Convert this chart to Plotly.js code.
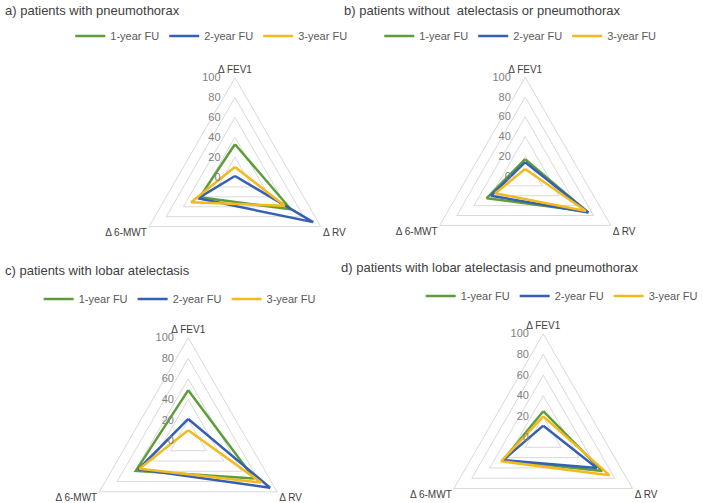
<!DOCTYPE html>
<html>
<head>
<meta charset="utf-8">
<script src="https://cdn.plot.ly/plotly-3.0.1.min.js"></script>
<style>
html,body{margin:0;padding:0;overflow:hidden;background:#fff;}
#chart{width:703px;height:560px;}
</style>
</head>
<body>
<div id="chart"></div>
<script>
// ---- data ----
const categories = ["Δ FEV1", "Δ RV", "Δ 6-MWT"];
const seriesNames = ["1-year FU", "2-year FU", "3-year FU"];
const radialTicks = [0, 20, 40, 60, 80, 100];

const a_1yr = [33, 65, 41];
const a_2yr = [1, 91, 43];
const a_3yr = [10, 58, 51];

const b_1yr = [17, 72, 45];
const b_2yr = [14, 74, 40];
const b_3yr = [7, 71, 35];

const c_1yr = [49, 74, 59];
const c_2yr = [21, 92, 56];
const c_3yr = [10, 82, 55];

const d_1yr = [25, 66, 45];
const d_2yr = [11, 60, 45];
const d_3yr = [20, 74, 47];

const panelTitles = [
  "a) patients with pneumothorax",
  "b) patients without  atelectasis or pneumothorax",
  "c) patients with lobar atelectasis",
  "d) patients with lobar atelectasis and pneumothorax"
];

// ---- styling / layout ----
const W = 703, H = 560;
const colors = ["#5E9E3A", "#3560B5", "#F4B91C"];
const panels = [
  {series: [a_1yr, a_2yr, a_3yr], cx: 238, cy: 177, R: 100.5, title: [3, 10], leg: [214, 36]},
  {series: [b_1yr, b_2yr, b_3yr], cx: 532, cy: 176, R: 100, title: [346, 10], leg: [527, 36]},
  {series: [c_1yr, c_2yr, c_3yr], cx: 190.7, cy: 440.5, R: 104, title: [3, 270], leg: [182, 299]},
  {series: [d_1yr, d_2yr, d_3yr], cx: 550.3, cy: 437, R: 104.5, title: [343, 267], leg: [569, 296]}
];

// radial tick labels end at the axis; trailing no-break spaces move the digits
// a little to the left of it, as in the reference
const NBSP = "\u00A0";
const padLabel = v => String(v) + NBSP.repeat(4);

const traces = [];
const layout = {
  width: W, height: H,
  margin: {l: 0, r: 0, t: 0, b: 0},
  paper_bgcolor: "#fff",
  font: {family: "Liberation Sans, Arial, sans-serif", color: "#595959"},
  annotations: [],
  showlegend: true
};

panels.forEach((p, i) => {
  const pk = i === 0 ? "polar" : "polar" + (i + 1);
  const lk = i === 0 ? "legend" : "legend" + (i + 1);
  p.series.forEach((vals, s) => {
    traces.push({
      type: "scatterpolar",
      r: vals.concat([vals[0]]),
      theta: categories.concat([categories[0]]),
      mode: "lines",
      name: seriesNames[s],
      line: {color: colors[s], width: 2.5},
      subplot: pk,
      legend: lk,
      hoverinfo: "skip"
    });
  });
  layout[pk] = {
    domain: {
      x: [(p.cx - p.R) / W, (p.cx + p.R) / W],
      y: [1 - (p.cy + p.R) / H, 1 - (p.cy - p.R) / H]
    },
    gridshape: "linear",
    bgcolor: "#fff",
    radialaxis: {
      range: [0, 100],
      tickvals: radialTicks,
      ticktext: radialTicks.map(padLabel),
      showline: false,
      ticks: "",
      gridcolor: "#d9d9d9",
      gridwidth: 1,
      angle: 90,
      tickangle: 90,
      side: "counterclockwise",
      tickfont: {size: 11, color: "#808080"}
    },
    angularaxis: {
      rotation: 90,
      direction: "clockwise",
      showline: true,
      linecolor: "#d9d9d9",
      linewidth: 1,
      showgrid: false,
      ticks: "",
      tickfont: {size: 10, color: "#404040"}
    }
  };
  layout[lk] = {
    orientation: "h",
    x: p.leg[0] / W, y: 1 - p.leg[1] / H,
    xanchor: "center", yanchor: "middle",
    font: {size: 11, color: "#595959"},
    bgcolor: "rgba(0,0,0,0)",
    itemclick: false
  };
  layout.annotations.push({
    text: panelTitles[i],
    xref: "paper", yref: "paper",
    x: p.title[0] / W, y: 1 - p.title[1] / H,
    xanchor: "left", yanchor: "middle",
    showarrow: false,
    font: {size: 13, color: "#404040"}
  });
});

Plotly.newPlot("chart", traces, layout, {displayModeBar: false, staticPlot: true});
</script>
</body>
</html>
